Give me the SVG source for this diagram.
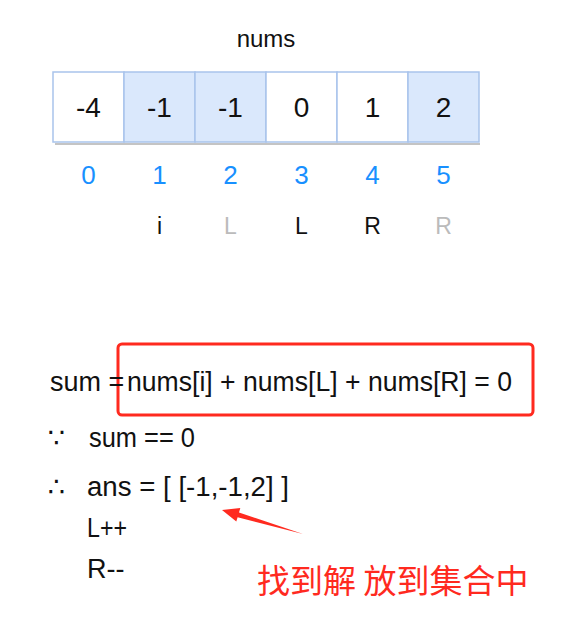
<svg xmlns="http://www.w3.org/2000/svg" width="578" height="627" viewBox="0 0 578 627">
<style>
text{font-family:"Liberation Sans","DejaVu Sans","Noto Sans CJK SC",sans-serif;fill:#111}
.cell{stroke:#a9c4eb;stroke-width:1.5}
.w{fill:#ffffff}
.b{fill:#dae8fc}
.val{font-size:28px;text-anchor:middle}
.idx{font-size:26px;text-anchor:middle;fill:#1890ff}
.ptr{font-size:23px;text-anchor:middle}
.dim{fill:#bbbbbb}
.ln{font-size:27px}
.cn{font-family:"Noto Sans CJK SC",sans-serif;font-size:33px;fill:#ff2a1f}
</style>
<rect width="578" height="627" fill="#ffffff"/>
<g id="title"><text x="266" y="47" font-size="24" text-anchor="middle">nums</text></g>
<g id="array">
<line x1="55" y1="144" x2="480" y2="144" stroke="#c4c4c4" stroke-width="2"/>
<g id="cell0"><rect class="cell w" x="53" y="72" width="71" height="70"/><text class="val" x="88.5" y="117">-4</text></g>
<g id="cell1"><rect class="cell b" x="124" y="72" width="71" height="70"/><text class="val" x="159.5" y="117">-1</text></g>
<g id="cell2"><rect class="cell b" x="195" y="72" width="71" height="70"/><text class="val" x="230.5" y="117">-1</text></g>
<g id="cell3"><rect class="cell w" x="266" y="72" width="71" height="70"/><text class="val" x="301.5" y="117">0</text></g>
<g id="cell4"><rect class="cell w" x="337" y="72" width="71" height="70"/><text class="val" x="372.5" y="117">1</text></g>
<g id="cell5"><rect class="cell b" x="408" y="72" width="71" height="70"/><text class="val" x="443.5" y="117">2</text></g>
</g>
<g id="indices">
<text class="idx" x="88.5" y="184">0</text>
<text class="idx" x="159.5" y="184">1</text>
<text class="idx" x="230.5" y="184">2</text>
<text class="idx" x="301.5" y="184">3</text>
<text class="idx" x="372.5" y="184">4</text>
<text class="idx" x="443.5" y="184">5</text>
</g>
<g id="pointers">
<text class="ptr" x="159.5" y="234">i</text>
<text class="ptr dim" x="230.5" y="234">L</text>
<text class="ptr" x="301.5" y="234">L</text>
<text class="ptr" x="372.5" y="234">R</text>
<text class="ptr dim" x="443.5" y="234">R</text>
</g>
<g id="highlight"><rect x="118" y="344" width="415" height="71" rx="4" fill="none" stroke="#ff2a1f" stroke-width="3"/></g>
<g id="lines">
<text class="ln" x="50" y="391">sum =</text>
<text class="ln" x="127" y="391" textLength="385" lengthAdjust="spacingAndGlyphs">nums[i] + nums[L] + nums[R] = 0</text>
<text class="ln" x="48" y="447">∵</text>
<text class="ln" x="89" y="447" textLength="106" lengthAdjust="spacingAndGlyphs">sum == 0</text>
<text class="ln" x="48" y="496">∴</text>
<text class="ln" x="87" y="496" textLength="202" lengthAdjust="spacingAndGlyphs">ans = [ [-1,-1,2] ]</text>
<text class="ln" x="87" y="537" textLength="40" lengthAdjust="spacingAndGlyphs">L++</text>
<text class="ln" x="87" y="578">R--</text>
</g>
<g id="connectors"><polygon points="222,510 240.3,508.1 239,512.4 303,534 237.6,517.2 236.3,521.5" fill="#ff2a1f"/></g>
<g id="note"><text class="cn" x="257" y="593">找到解 放到集合中</text></g>
</svg>
